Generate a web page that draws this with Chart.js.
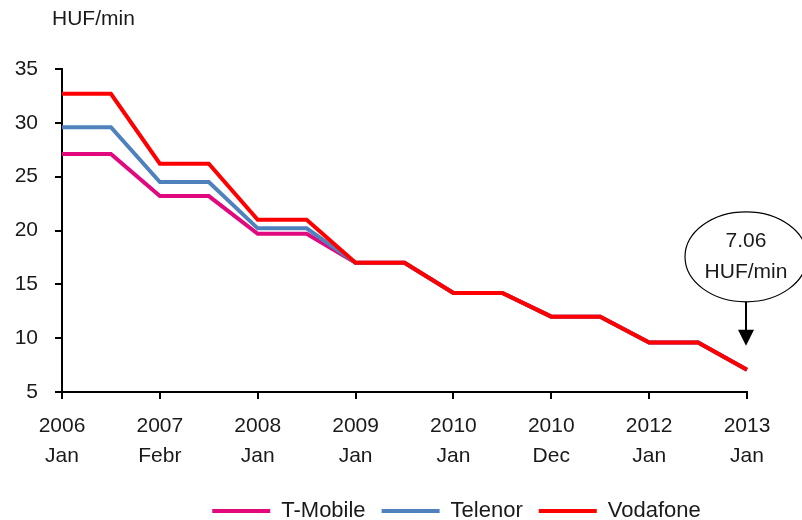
<!DOCTYPE html>
<html>
<head>
<meta charset="utf-8">
<script src="https://cdn.jsdelivr.net/npm/chart.js@4.4.0/dist/chart.umd.min.js"></script>
<style>
    body { margin: 0; background: #fff; }
    #wrap { width: 802px; height: 520px; }
</style>
</head>
<body>
<div id="wrap"><canvas id="myChart" width="802" height="520"></canvas></div>
<script>
// tick labels (one per year tick), data has a point every half step
const tickYears = ['2006', '2007', '2008', '2009', '2010', '2010', '2012', '2013'];
const tickMonths = ['Jan', 'Febr', 'Jan', 'Jan', 'Jan', 'Dec', 'Jan', 'Jan'];

const tMobile  = [27.1, 27.1, 23.2, 23.2, 19.7, 19.7, 17.0, 17.0, 14.2, 14.2, 12.0, 12.0, 9.6, 9.6, 7.06];
const telenor  = [29.6, 29.6, 24.5, 24.5, 20.2, 20.2, 17.0, 17.0, 14.2, 14.2, 12.0, 12.0, 9.6, 9.6, 7.06];
const vodafone = [32.7, 32.7, 26.2, 26.2, 21.0, 21.0, 17.0, 17.0, 14.2, 14.2, 12.0, 12.0, 9.6, 9.6, 7.06];

const unitLabel = 'HUF/min';
const FONT = '"Liberation Sans", Arial, sans-serif';
const TEXT = '#1a1a1a';

const labels = [];
for (let i = 0; i < tickYears.length; i++) {
    labels.push([tickYears[i], tickMonths[i]]);
    if (i < tickYears.length - 1) labels.push('');
}

const annotation = {
    id: 'annotation',
    afterLayout(chart) {
        // legend sits right of centre in the original
        chart.legend.left += 83;
        chart.legend.right += 83;
    },
    afterDraw(chart) {
        const ctx = chart.ctx;
        const meta = chart.getDatasetMeta(2);
        const pt = meta.data[meta.data.length - 1];
        const cx = pt.x - 1, cy = pt.y - 113;
        ctx.save();
        // unit text top left
        ctx.fillStyle = TEXT;
        ctx.font = '21px ' + FONT;
        ctx.textAlign = 'left';
        ctx.textBaseline = 'middle';
        ctx.fillText(unitLabel, 52, 19);
        // ellipse callout
        ctx.beginPath();
        ctx.ellipse(cx, cy, 61, 45, 0, 0, Math.PI * 2);
        ctx.strokeStyle = '#000';
        ctx.lineWidth = 1.2;
        ctx.stroke();
        ctx.textAlign = 'center';
        ctx.fillText(vodafone[vodafone.length - 1].toFixed(2), cx, cy - 16);
        ctx.fillText(unitLabel, cx, cy + 15);
        // arrow
        ctx.beginPath();
        ctx.moveTo(cx, cy + 45);
        ctx.lineTo(cx, pt.y - 36);
        ctx.lineWidth = 2;
        ctx.stroke();
        ctx.beginPath();
        ctx.moveTo(cx - 8, pt.y - 40);
        ctx.lineTo(cx + 8, pt.y - 40);
        ctx.lineTo(cx, pt.y - 24);
        ctx.closePath();
        ctx.fillStyle = '#000';
        ctx.fill();
        ctx.restore();
    }
};

function lineSet(label, values, color, order) {
    return {
        label: label,
        data: values,
        borderColor: color,
        backgroundColor: color,
        borderWidth: 4,
        pointRadius: 0,
        tension: 0,
        fill: false,
        order: order
    };
}

const config = {
    type: 'line',
    data: {
        labels: labels,
        datasets: [
            lineSet('T-Mobile', tMobile, '#E2097E', 3),
            lineSet('Telenor', telenor, '#4F81BD', 2),
            lineSet('Vodafone', vodafone, '#FF0000', 1)
        ]
    },
    options: {
        responsive: false,
        animation: false,
        layout: { padding: { top: 69, right: 55, left: 0, bottom: -12 } },
        plugins: {
            tooltip: { enabled: false },
            legend: {
                position: 'bottom',
                labels: {
                    boxWidth: 58,
                    boxHeight: 4,
                    padding: 16,
                    color: TEXT,
                    font: { family: FONT, size: 22 },
                    sort: function (a, b) { return a.datasetIndex - b.datasetIndex; },
                    generateLabels: function (chart) {
                        const items = Chart.defaults.plugins.legend.labels.generateLabels(chart);
                        items.forEach(function (it) { it.lineWidth = 0; });
                        return items;
                    }
                }
            }
        },
        scales: {
            x: {
                type: 'category',
                offset: false,
                grid: {
                    drawOnChartArea: false,
                    tickLength: 7,
                    lineWidth: 2,
                    color: function (c) { return c.index % 2 ? 'rgba(0,0,0,0)' : '#000'; }
                },
                border: { color: '#000', width: 2 },
                ticks: {
                    autoSkip: false,
                    maxRotation: 0,
                    color: TEXT,
                    padding: 12,
                    font: { family: FONT, size: 21, lineHeight: 1.45 }
                },
                afterFit: function (scale) { scale.height = 92; }
            },
            y: {
                min: 5,
                max: 35,
                grid: { drawOnChartArea: false, tickLength: 7, lineWidth: 2, color: '#000' },
                border: { color: '#000', width: 2 },
                ticks: {
                    stepSize: 5,
                    color: TEXT,
                    padding: 17,
                    font: { family: FONT, size: 21 }
                },
                afterFit: function (scale) { scale.width = 62; }
            }
        }
    },
    plugins: [annotation]
};

const myChart = new Chart(document.getElementById('myChart').getContext('2d'), config);
</script>
</body>
</html>
